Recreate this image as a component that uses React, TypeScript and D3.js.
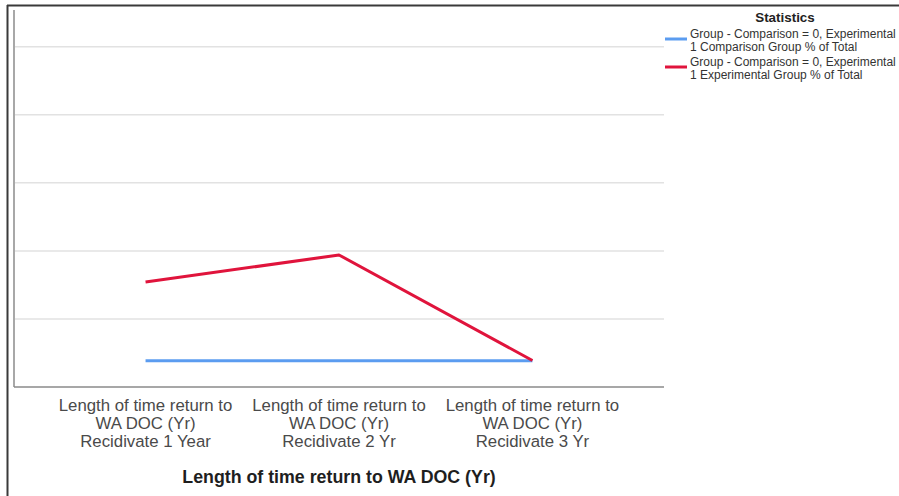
import React from "react";
import * as d3 from "d3";

const categories = [
  "Length of time return to|WA DOC (Yr)|Recidivate 1 Year",
  "Length of time return to|WA DOC (Yr)|Recidivate 2 Yr",
  "Length of time return to|WA DOC (Yr)|Recidivate 3 Yr",
];
const comparisonValues = [1.93, 1.93, 1.93];
const experimentalValues = [7.71, 9.7, 1.95];
const gridTicks = [5, 10, 15, 20, 25];
const seriesNames = [
  ["Group - Comparison = 0, Experimental", "1 Comparison Group % of Total"],
  ["Group - Comparison = 0, Experimental", "1 Experimental Group % of Total"],
];
const seriesColors = ["#5b9cf0", "#e0143c"];
const xTitle = "Length of time return to WA DOC (Yr)";
const legendTitle = "Statistics";

export default function App() {
  const W = 899;
  const H = 496;
  const left = 14;
  const right = 664;
  const bottom = 387;
  const top = 10;
  const x = d3.scalePoint<string>().domain(categories).range([left, right]).padding(0.68);
  const y = d3.scaleLinear().domain([0, 27.7]).range([bottom, top]);
  const line = d3
    .line<number>()
    .x((_, i) => x(categories[i]) as number)
    .y((d) => y(d));
  const font = "'Liberation Sans', Arial, sans-serif";
  const series = [comparisonValues, experimentalValues];
  return (
    <svg
      width={W}
      height={H}
      style={{ position: "absolute", left: 0, top: 0, background: "#fff" }}
      fontFamily={font}
    >
      {/* outer frame */}
      <line x1={7} x2={W} y1={5.5} y2={5.5} stroke="#3a3a3a" strokeWidth={2} />
      <line x1={7.5} x2={7.5} y1={5} y2={H} stroke="#3a3a3a" strokeWidth={2} />
      {/* gridlines */}
      {gridTicks.map((t) => (
        <line key={t} x1={left} x2={right} y1={y(t)} y2={y(t)} stroke="#e2e2e2" strokeWidth={1.5} />
      ))}
      {/* axes */}
      <line x1={left} x2={left} y1={top} y2={bottom} stroke="#a8a8a8" strokeWidth={2} />
      <line x1={left} x2={right} y1={bottom} y2={bottom} stroke="#8a8a8a" strokeWidth={1.5} />
      {/* series */}
      {series.map((s, i) => (
        <path
          key={i}
          d={line(s) as string}
          fill="none"
          stroke={seriesColors[i]}
          strokeWidth={3}
          strokeLinejoin="round"
        />
      ))}
      {/* category labels */}
      {categories.map((c) => (
        <text key={c} x={x(c)} y={411} textAnchor="middle" fontSize={16.8} fill="#4a4a4a">
          {c.split("|").map((ln, j) => (
            <tspan key={j} x={x(c)} dy={j === 0 ? 0 : 18}>
              {ln}
            </tspan>
          ))}
        </text>
      ))}
      {/* x title */}
      <text x={339} y={483} textAnchor="middle" fontSize={17.8} fontWeight="bold" fill="#1e1e1e">
        {xTitle}
      </text>
      {/* legend */}
      <text x={785} y={22} textAnchor="middle" fontSize={13.4} fontWeight="bold" fill="#222">
        {legendTitle}
      </text>
      {seriesNames.map((nm, i) => (
        <g key={i} transform={`translate(0, ${i * 28})`}>
          <line x1={665} x2={687} y1={39} y2={39} stroke={seriesColors[i]} strokeWidth={3} />
          <text x={690} y={38} fontSize={12} fill="#333">
            {nm[0]}
          </text>
          <text x={690} y={51} fontSize={12} fill="#333">
            {nm[1]}
          </text>
        </g>
      ))}
    </svg>
  );
}
